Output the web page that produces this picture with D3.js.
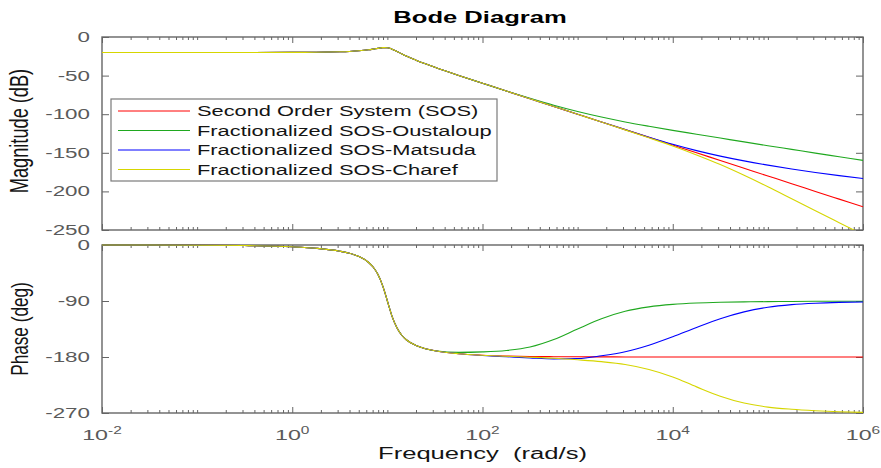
<!DOCTYPE html>
<html><head><meta charset="utf-8">
<script src="https://cdn.jsdelivr.net/npm/d3@7"></script>
<style>
body{margin:0;background:#fff}
svg{display:block}
text{font-family:"Liberation Sans",Arial,Helvetica,sans-serif;white-space:pre}
</style>
</head><body>
<svg id="c" width="881" height="468"></svg>
<script>
// ---- data ----
const freq = [0.01, 0.1, 0.316, 1, 1.78, 3.16, 3.98, 5.01, 6.31, 7.08, 7.94, 8.91, 9.33, 10, 10.6, 11.2, 12.6, 14.1, 15.8, 20, 25.1, 31.6, 56.2,
  100, 178, 316, 562, 1000, 1780, 3160, 5620, 1e4, 17800, 31600, 56200, 1e5, 178000, 316000, 562000, 1e6];

const magSOS = [-20, -20, -20, -19.9, -19.8, -19.2, -18.7, -17.9, -16.6, -15.7, -14.7, -13.8, -13.7, -14.0, -14.7, -15.8, -18.7, -21.7, -24.7, -30.0, -34.7, -39.2, -49.8,
  -59.9, -70.0, -80.0, -90.0, -100.0, -110.0, -120.0, -130.0, -140.0, -150.0, -160.0, -170.0, -180.0, -190.0, -200.0, -210.0, -220.0];
const magOustaloup = [-20, -20, -20, -19.9, -19.8, -19.2, -18.7, -17.9, -16.6, -15.7, -14.7, -13.8, -13.7, -14.0, -14.7, -15.8, -18.7, -21.7, -24.7, -30.0, -34.7, -39.2, -49.8,
  -59.9, -69.9, -79.4, -88.4, -96.5, -103.7, -110.0, -115.6, -120.9, -125.9, -130.9, -135.9, -140.8, -145.6, -150.4, -155.1, -159.8];
const magMatsuda = [-20, -20, -20, -19.9, -19.8, -19.2, -18.7, -17.9, -16.6, -15.7, -14.7, -13.8, -13.7, -14.0, -14.7, -15.8, -18.7, -21.7, -24.7, -30.0, -34.7, -39.2, -49.8,
  -59.9, -70.0, -80.0, -90.0, -100.1, -110.1, -120.0, -129.8, -139.0, -147.2, -154.3, -160.5, -166.0, -171.0, -175.5, -179.6, -183.3];
const magCharef = [-20, -20, -20, -19.9, -19.8, -19.2, -18.7, -17.9, -16.6, -15.7, -14.7, -13.8, -13.7, -14.0, -14.7, -15.8, -18.7, -21.7, -24.7, -30.0, -34.7, -39.2, -49.8,
  -59.9, -70.0, -80.0, -90.0, -100.1, -110.2, -120.3, -130.6, -141.2, -152.8, -165.3, -179.2, -194.0, -209.5, -225.0, -240.5, -256.0];

const phaseSOS = [0, -0.3, -0.9, -2.9, -5.3, -10.0, -13.3, -18.5, -27.7, -35.4, -47.1, -65.2, -74.5, -90.0, -103.0, -114.8, -132.9, -144.6, -152.3, -161.5, -166.7, -170.0, -174.8,
  -177.1, -178.4, -179.1, -179.5, -179.7, -179.8, -179.9, -180, -180, -180, -180, -180, -180, -180, -180, -180, -180];
const phaseOustaloup = [0, -0.3, -0.9, -2.9, -5.3, -10.0, -13.3, -18.5, -27.7, -35.4, -47.1, -65.2, -74.5, -90.0, -103.0, -114.8, -132.9, -144.6, -152.3, -161.5, -166.7, -170.0,
  -172.6, -171.8, -169.5, -164.0, -152.0, -135.0, -118.5, -106.5, -99.5, -95.5, -93.3, -92.1, -91.4, -91.0, -90.7, -90.5, -90.4, -90.3];
const phaseMatsuda = [0, -0.3, -0.9, -2.9, -5.3, -10.0, -13.3, -18.5, -27.7, -35.4, -47.1, -65.2, -74.5, -90.0, -103.0, -114.8, -132.9, -144.6, -152.3, -161.5, -166.7, -170.0, -174.8,
  -177.5, -179.5, -181.5, -183.0, -182.5, -178.0, -171.5, -161.0, -147.5, -132.5, -118.5, -107.5, -100.0, -95.8, -93.5, -92.2, -91.5];
const phaseCharef = [0, -0.3, -0.9, -2.9, -5.3, -10.0, -13.3, -18.5, -27.7, -35.4, -47.1, -65.2, -74.5, -90.0, -103.0, -114.8, -132.9, -144.6, -152.3, -161.5, -166.7, -170.0, -174.8,
  -177.3, -178.8, -180.3, -182.0, -184.5, -187.5, -192.0, -200.0, -212.0, -228.0, -243.0, -254.0, -260.5, -264.0, -266.3, -268.0, -269.0];

const seriesNames = ["Second Order System (SOS)", "Fractionalized SOS-Oustaloup", "Fractionalized SOS-Matsuda", "Fractionalized SOS-Charef"];
const seriesColors = ["#ff0000", "#1fa81f", "#0000ff", "#d6d600"];
const magSeries = [magSOS, magOustaloup, magMatsuda, magCharef];
const phaseSeries = [phaseSOS, phaseOustaloup, phaseMatsuda, phaseCharef];

const magTicks = [0, -50, -100, -150, -200, -250];
const phaseTicks = [0, -90, -180, -270];
const freqLabelExps = [-2, 0, 2, 4, 6];

const titleText = "Bode Diagram";
const xLabelText = "Frequency  (rad/s)";
const magLabelText = "Magnitude (dB)";
const phaseLabelText = "Phase (deg)";

// ---- layout ----
const W = 881, H = 468;
const L = 102, R = 863, T1 = 37, B1 = 230, T2 = 245, B2 = 413;
const SX = 1.6;
const axisColor = "#656565", tickLabelColor = "#5a5a5a", textColor = "#141414";

const svg = d3.select("#c");
svg.append("rect").attr("width", W).attr("height", H).attr("fill", "#fff");

const x = d3.scaleLog().domain([1e-2, 1e6]).range([L, R]);
const yM = d3.scaleLinear().domain([-250, 0]).range([B1, T1]);
const yP = d3.scaleLinear().domain([-270, 0]).range([B2, T2]);

const defs = svg.append("defs");
defs.append("clipPath").attr("id", "clipM").append("rect").attr("x", L).attr("y", T1 - 1).attr("width", R - L).attr("height", B1 - T1 + 1);
defs.append("clipPath").attr("id", "clipP").append("rect").attr("x", L).attr("y", T2 - 1).attr("width", R - L).attr("height", B2 - T2 + 1);

const isLabeledMajor = v => {
  const e = Math.log10(v);
  return Math.abs(e - Math.round(e)) < 1e-9 && freqLabelExps.includes(Math.round(e));
};

function panel(y, T, B, ticks, series, clipId) {
  const g = svg.append("g");
  // y ticks (left & right, inward)
  const yl = g.append("g").attr("transform", `translate(${L},0)`)
    .call(d3.axisLeft(y).tickValues(ticks).tickSize(-7).tickFormat(""));
  const yr = g.append("g").attr("transform", `translate(${R},0)`)
    .call(d3.axisRight(y).tickValues(ticks).tickSize(-7).tickFormat(""));
  // x ticks (top & bottom, inward)
  const xt = x.ticks();
  const xb = g.append("g").attr("transform", `translate(0,${B})`)
    .call(d3.axisBottom(x).tickValues(xt).tickSize(-3).tickFormat(""));
  const xtp = g.append("g").attr("transform", `translate(0,${T})`)
    .call(d3.axisTop(x).tickValues(xt).tickSize(-3).tickFormat(""));
  xb.selectAll(".tick line").attr("y2", d => isLabeledMajor(d) ? -6 : -3);
  xtp.selectAll(".tick line").attr("y2", d => isLabeledMajor(d) ? 6 : 3);
  [yl, yr, xb, xtp].forEach(a => {
    a.select(".domain").remove();
    a.selectAll(".tick line").attr("stroke", axisColor).attr("stroke-width", 1);
  });
  // frame
  g.append("rect").attr("x", L).attr("y", T).attr("width", R - L).attr("height", B - T)
    .attr("fill", "none").attr("stroke", axisColor).attr("stroke-width", 1.4);
  // curves (drawn over the frame, as in the reference)
  const cg = g.append("g").attr("clip-path", `url(#${clipId})`);
  series.forEach((vals, k) => {
    const line = d3.line().x((d, i) => x(freq[i])).y(d => y(d)).curve(d3.curveMonotoneX);
    cg.append("path").attr("d", line(vals)).attr("fill", "none")
      .attr("stroke", seriesColors[k]).attr("stroke-width", 1.1);
  });
  // y tick labels
  ticks.forEach(t => {
    g.append("text").attr("transform", `translate(${L - 12},${y(t)}) scale(${SX},1)`)
      .attr("text-anchor", "end").attr("dy", "0.36em")
      .attr("font-size", 14).attr("fill", tickLabelColor).text(String(t));
  });
}

panel(yM, T1, B1, magTicks, magSeries, "clipM");
panel(yP, T2, B2, phaseTicks, phaseSeries, "clipP");

// x tick labels (powers of ten)
freqLabelExps.forEach(e => {
  const t = svg.append("text").attr("transform", `translate(${x(Math.pow(10, e))},440) scale(1.55,1)`)
    .attr("text-anchor", "middle").attr("font-size", 15).attr("fill", tickLabelColor);
  t.append("tspan").text("10");
  t.append("tspan").attr("font-size", 10).attr("dy", -6.5).text(String(e));
});

// title
svg.append("text").attr("transform", `translate(480,22.5) scale(${SX},1)`)
  .attr("text-anchor", "middle").attr("font-size", 16).attr("font-weight", "bold")
  .attr("fill", "#000").text(titleText);

// x label
svg.append("text").attr("transform", `translate(482.5,459) scale(${SX},1)`)
  .attr("text-anchor", "middle").attr("font-size", 16).attr("fill", textColor).text(xLabelText);

// y labels
svg.append("text").attr("transform", `translate(28,131) scale(1.4,1) rotate(-90)`)
  .attr("text-anchor", "middle").attr("font-size", 18.2).attr("fill", textColor).text(magLabelText);
svg.append("text").attr("transform", `translate(28,329) scale(1.4,1) rotate(-90)`)
  .attr("text-anchor", "middle").attr("font-size", 17.2).attr("fill", textColor).text(phaseLabelText);

// legend
const lg = svg.append("g");
lg.append("rect").attr("x", 111).attr("y", 99).attr("width", 386).attr("height", 82)
  .attr("fill", "#fff").attr("stroke", "#7a7a7a").attr("stroke-width", 1.2);
seriesNames.forEach((name, k) => {
  const ry = 111 + k * 19.5;
  lg.append("line").attr("x1", 118).attr("x2", 190).attr("y1", ry).attr("y2", ry)
    .attr("stroke", seriesColors[k]).attr("stroke-width", 1);
  lg.append("text").attr("transform", `translate(197,${ry + 5.3}) scale(1.56,1)`)
    .attr("font-size", 14).attr("fill", textColor).text(name);
});
</script>
</body></html>
